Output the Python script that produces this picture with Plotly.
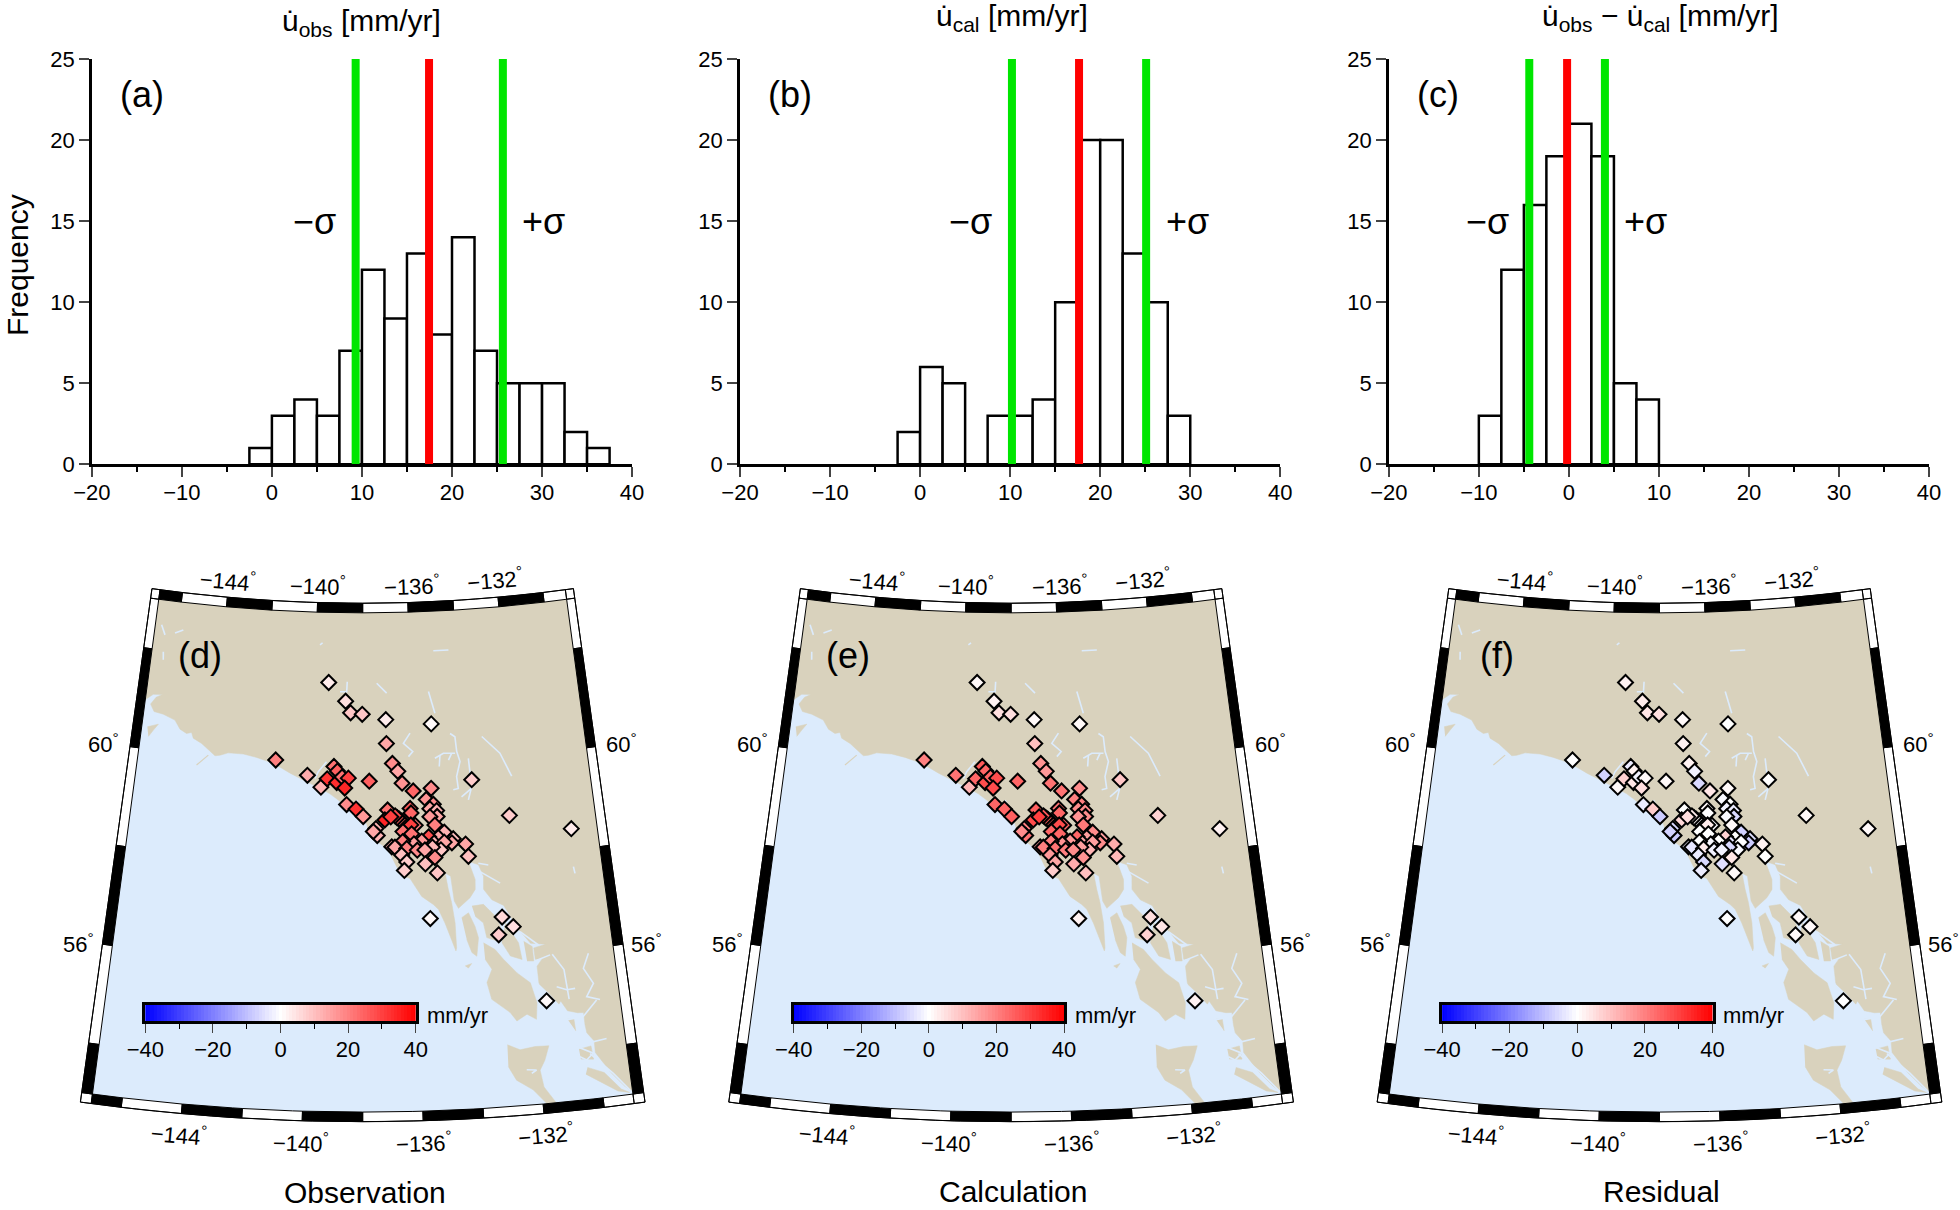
import math
import plotly.graph_objects as go

W, H = 1960, 1210
FONT = "Liberation Sans"

# ---------------- histograms ----------------
bin_width = 2.5
hist_a_start = -2.5
hist_a = [1, 3, 4, 3, 7, 12, 9, 13, 8, 14, 7, 5, 5, 5, 2, 1]
hist_b_start = -2.5
hist_b = [2, 6, 5, 0, 3, 3, 4, 10, 20, 20, 13, 10, 3]
hist_c_start = -10
hist_c = [3, 12, 16, 19, 21, 19, 5, 4]
mean_a, sigma_lo_a, sigma_hi_a = 17.45, 9.3, 25.65
mean_b, sigma_lo_b, sigma_hi_b = 17.65, 10.2, 25.1
mean_c, sigma_lo_c, sigma_hi_c = -0.2, -4.4, 4.0
x_ticks = [-20, -10, 0, 10, 20, 30, 40]
y_ticks = [0, 5, 10, 15, 20, 25]
cbar_ticks = [-40, -20, 0, 20, 40]

# ---------------- stations (degrees west, degrees north, mm/yr) ----------------
station_lon_w = [139.43,138.71,138.50,138.02,137.05,135.19,137.04,133.68,132.31,129.99,
 141.49,140.20,139.65,139.41,139.15,139.01,139.03,138.82,138.57,138.71,
 137.74,138.63,138.26,137.98,136.81,136.60,136.44,136.01,135.30,135.51,
 135.24,135.38,135.12,135.11,135.39,137.03,136.15,136.12,136.49,136.58,
 136.66,136.74,137.14,136.91,135.97,136.14,135.21,136.45,136.12,137.49,
 137.44,137.59,134.86,135.10,135.47,134.53,134.59,134.07,133.99,135.74,
 136.04,136.47,135.27,134.88,135.02,135.34,136.89,136.64,136.77,136.32,
 135.92,135.63,136.52,135.26,136.33,135.63,136.43,135.19,135.52,132.89,
 132.51,133.06,131.56]
station_lat = [61.60,61.23,61.00,60.97,60.86,60.75,60.38,59.59,58.82,58.43,
 60.01,59.73,59.50,59.67,59.92,59.83,59.60,59.71,59.69,59.49,
 59.63,59.16,59.07,58.92,59.98,59.82,59.58,59.42,59.46,59.24,
 59.14,59.05,59.01,58.89,58.89,59.05,59.07,58.98,58.82,58.86,
 58.89,58.93,58.85,58.91,58.73,58.74,58.72,58.61,58.56,58.68,
 58.54,58.62,58.57,58.47,58.49,58.43,58.35,58.31,58.06,58.41,
 58.36,58.41,58.36,58.37,58.22,58.28,58.31,58.24,58.30,58.27,
 58.23,58.23,58.14,58.07,58.00,57.95,57.83,57.76,56.85,56.80,
 56.59,56.45,55.05]
obs = [3,5,9,9,3,1,14,8,8,3,20,13,12,32,22,25,33,22,30,34,25,18,32,16,18,14,17,24,18,17,
 18,14,12,14,16,22,26,24,22,24,26,28,34,30,20,30,20,22,22,12,12,14,12,14,28,10,14,14,10,16,
 15,20,12,14,9,11,14,18,14,20,18,14,10,18,8,10,8,9,1,6,5,8,1]
cal = [1,2,5,5,1,1,10,9,7,2,20,22,12,24,26,24,28,24,28,28,24,24,24,25,17,16,22,22,18,20,
 20,18,18,18,17,25,22,24,24,25,26,26,28,30,24,28,21,24,24,20,22,18,18,15,24,15,18,13,11,16,
 17,20,14,15,12,15,16,18,20,22,20,18,16,17,14,13,8,10,2,5,4,7,2]
res = [2,3,4,5,1,0,2,0,1,1,0,-7,1,7,-3,2,4,-2,1,5,1,-3,8,-8,2,-2,-6,4,1,-1,
 0,-2,-3,-6,-1,0,1,0,-1,-1,1,3,6,5,-1,3,1,0,0,-6,-8,-7,-7,0,7,-5,-8,2,0,0,
 -1,0,-4,0,-1,-6,-2,1,-4,3,-2,-2,-3,4,-6,-5,-3,1,0,1,1,1,0]

# ---------------- coastline, islands, inland water (degrees west, degrees north) ----------------
coast_lon_w = [147.20,146.95,146.70,146.32,146.57,146.76,146.58,146.19,145.69,145.44,
 145.16,144.96,144.87,144.51,144.14,143.93,143.73,143.41,142.80,142.26,
 141.78,141.30,140.89,140.49,140.09,139.69,139.29,138.96,138.63,137.85,
 137.72,137.21,136.96,136.72,136.47,136.23,
 135.81,135.39,135.21,134.99,134.83,134.64,134.61,134.62,134.71,134.81,134.90,
 134.70,134.61,134.47,134.02,133.81,133.79,133.93,134.00,
 133.63,133.47,133.50,133.22,132.80,132.64,132.33,131.94,131.40,131.84,131.82,131.57,131.78,131.77,
 131.75,131.46,131.14,131.07,130.87,130.53,130.32,130.32,130.29,130.07,130.08,129.63,129.24,128.86]
coast_lat = [60.89,61.00,61.10,61.12,61.05,60.90,60.76,60.73,60.64,60.47,
 60.40,60.43,60.32,60.23,60.08,60.01,60.03,60.09,60.09,60.04,
 59.97,59.87,59.76,59.66,59.57,59.48,59.37,59.25,59.10,58.78,
 58.52,58.33,58.18,57.91,57.71,57.67,
 57.30,57.13,57.03,56.75,56.48,56.18,56.24,56.74,57.15,57.42,57.75,
 57.68,57.18,57.03,57.23,57.39,57.59,57.82,57.96,
 57.88,57.64,57.38,57.16,57.03,56.87,56.53,56.23,56.18,56.13,55.90,55.90,55.76,55.43,
 55.39,55.20,54.96,55.02,54.81,54.75,54.74,54.50,54.33,54.15,53.92,53.48,53.18,52.95]
island_lon_w = [146.77,146.34,146.51,146.68,None,
 133.97,133.54,133.14,132.98,133.09,133.50,133.59,133.87,None,
 132.79,132.37,132.29,132.70,132.97,None,
 132.18,131.89,131.88,132.12,None,
 134.37,134.11,133.90,133.80,133.90,134.07,134.23,None,
 134.34,134.10,134.23,None,
 133.63,133.23,132.95,132.51,132.07,131.90,131.97,132.28,132.65,132.86,133.47,133.60,133.39,133.61,None,
 133.04,132.62,132.10,131.63,131.81,132.00,131.92,131.58,131.83,132.29,132.82,133.06,None,
 130.40,129.86,129.36,129.10,129.48,130.06,130.48,None,
 130.62,130.20,130.16,130.59,None,
 130.90,130.68,130.66]
island_lat = [60.44,60.52,60.39,60.25,None,
 57.06,57.08,56.83,56.62,56.32,56.41,56.71,56.85,None,
 56.68,56.26,55.92,56.01,56.29,None,
 56.28,56.16,55.87,55.88,None,
 56.84,56.93,56.65,56.42,56.05,56.13,56.40,None,
 55.87,55.91,55.82,None,
 56.31,56.16,55.95,55.66,55.44,55.03,54.70,54.82,54.70,54.88,55.17,55.51,55.77,55.98,None,
 54.24,54.12,54.16,54.15,53.87,53.68,53.34,53.02,52.97,53.30,53.52,53.80,None,
 53.64,53.50,53.13,53.04,53.10,53.34,53.51,None,
 54.02,54.06,53.79,53.82,None,
 54.64,54.63,54.39]
water_lon_w = [146.73,146.53,None,146.51,146.47,None,146.11,145.77,None,139.84,139.73,None,
 138.65,138.67,138.95,None,137.41,137.00,None,139.45,139.77,139.89,None,138.24,138.04,None,
 134.97,134.32,None,135.25,135.13,135.02,None,136.07,136.35,135.98,136.16,None,
 134.44,134.25,134.21,134.10,134.27,134.23,134.43,None,135.10,134.75,134.28,None,
 134.89,134.94,None,134.56,134.42,None,133.16,132.48,132.09,None,
 133.76,133.74,133.70,133.86,None,134.12,133.70,None,130.08,130.05,None,133.63,133.26,None,
 133.59,132.87,None,132.28,131.66,None,131.20,130.84,130.77,None,131.16,130.82,130.52,None,
 129.91,130.15,129.86,130.15,129.70,None,130.99,130.35,129.82,None,130.34,129.64,None,
 130.69,130.15,130.40,130.61,None,131.77,131.28,None,130.26,129.56,128.98,None,132.45,132.12,132.29]
water_lat = [62.50,62.31,None,61.97,61.81,None,62.37,62.45,None,62.35,62.39,None,
 61.62,61.42,61.42,None,61.59,61.39,None,60.01,59.81,59.67,None,59.25,59.05,None,
 62.21,62.21,None,61.40,61.19,60.96,None,60.58,60.38,60.21,60.11,None,
 60.54,60.47,60.17,59.97,59.67,59.43,59.41,None,60.06,60.15,60.14,None,
 60.12,59.89,None,60.01,60.14,None,60.44,60.08,59.60,None,
 60.02,59.65,59.45,59.19,None,59.26,59.42,None,57.67,57.53,None,57.91,57.86,None,
 57.74,57.48,None,56.48,56.18,None,55.97,55.64,55.04,None,55.31,55.23,55.24,None,
 55.91,55.62,55.30,55.05,54.96,None,54.63,54.66,54.96,None,54.12,54.17,None,
 54.08,53.91,53.79,53.87,None,55.88,55.96,None,53.91,53.46,53.01,None,53.71,53.69,53.63]
spit_lon_w = [144.63, 144.20]
spit_lat = [59.79, 60.01]

# map frame graticule
lon_edges = [-147, -146, -144, -142, -140, -138, -136, -134, -132, -130, -129]
lat_edges = [63, 62, 60, 58, 56, 54, 53]

# ---------------- projection (Lambert conformal conic about -138) ----------------
N0 = 0.848
K = 5149.0
LON0 = -138


def rad(lat):
    return K * math.tan(math.radians(45 - lat / 2)) ** N0


def polar(r, t):
    return r * math.sin(t), -r * math.cos(t)


def proj(lons, lats):
    xs, ys = [], []
    for a, b in zip(lons, lats):
        if a is None:
            xs.append(None)
            ys.append(None)
            continue
        x, y = polar(rad(b), math.radians((a - LON0) * N0))
        xs.append(x)
        ys.append(y)
    return xs, ys


def west(v):
    return [None if a is None else -a for a in v]


BAND = 9.6
TW = math.radians((lon_edges[0] - LON0) * N0)
TE = math.radians((lon_edges[-1] - LON0) * N0)
DT = BAND / 1800.0


def box(r1, r2, t1, t2, n=6):
    pts = []
    for i in range(n + 1):
        pts.append(polar(r1, t1 + (t2 - t1) * i / n))
    for i in range(n + 1):
        pts.append(polar(r2, t2 + (t1 - t2) * i / n))
    pts.append(pts[0])
    return [p[0] for p in pts], [p[1] for p in pts]


def frame_pieces():
    black_x, black_y, white_x, white_y = [], [], [], []

    def put(color, bx):
        xs, ys = bx
        if color == "k":
            black_x.extend(xs + [None])
            black_y.extend(ys + [None])
        else:
            white_x.extend(xs + [None])
            white_y.extend(ys + [None])

    rt, rb = rad(lat_edges[0]), rad(lat_edges[-1])
    for i in range(len(lon_edges) - 1):
        c = "k" if i % 2 == 0 else "w"
        t1 = math.radians((lon_edges[i] - LON0) * N0)
        t2 = math.radians((lon_edges[i + 1] - LON0) * N0)
        put(c, box(rt - BAND, rt, t1, t2))
        put(c, box(rb, rb + BAND, t1, t2))
    for i in range(len(lat_edges) - 1):
        c = "w" if i % 2 == 0 else "k"
        r1, r2 = rad(lat_edges[i]), rad(lat_edges[i + 1])
        put(c, box(r1, r2, TW - DT, TW, 2))
        put(c, box(r1, r2, TE, TE + DT, 2))
    for r1, r2 in ((rt - BAND, rt), (rb, rb + BAND)):
        for t1, t2 in ((TW - DT, TW), (TE, TE + DT)):
            put("w", box(r1, r2, t1, t2, 1))
    return black_x, black_y, white_x, white_y


def px_x(x):
    return x / W


def px_y(y):
    return 1 - y / H


fig = go.Figure()
layout = dict(width=W, height=H, margin=dict(l=0, r=0, t=0, b=0), showlegend=False, template="none",
              paper_bgcolor="white", plot_bgcolor="rgba(0,0,0,0)", hovermode=False,
              font=dict(family=FONT, size=22, color="black"))
annotations = []


def note(text, x, y, size=22, angle=0):
    annotations.append(dict(text=text, x=px_x(x), y=px_y(y), xref="paper", yref="paper", showarrow=False,
                            xanchor="center", yanchor="middle", textangle=angle,
                            font=dict(family=FONT, size=size, color="black")))


# ---------------- top row ----------------
hist_left = [91.8, 740.0, 1388.8]
hist_width = 540.3
GREEN, RED = "#00E600", "#FF0000"
hist_sets = [(hist_a_start, hist_a, mean_a, sigma_lo_a, sigma_hi_a),
             (hist_b_start, hist_b, mean_b, sigma_lo_b, sigma_hi_b),
             (hist_c_start, hist_c, mean_c, sigma_lo_c, sigma_hi_c)]
for k, (start, vals, mean, lo, hi) in enumerate(hist_sets):
    n = k + 1
    xa, ya = f"x{n}", f"y{n}"
    centers = [start + bin_width * (i + 0.5) for i in range(len(vals))]
    fig.add_trace(go.Bar(x=centers, y=vals, width=bin_width, marker=dict(color="white", line=dict(color="black", width=2.5)),
                         xaxis=xa, yaxis=ya))
    for v, c in ((lo, GREEN), (hi, GREEN), (mean, RED)):
        fig.add_trace(go.Scatter(x=[v, v], y=[0, 25], mode="lines", line=dict(color=c, width=8), xaxis=xa, yaxis=ya))
    layout[f"xaxis{n}"] = dict(domain=[px_x(hist_left[k]), px_x(hist_left[k] + hist_width)], range=[-20, 40], anchor=ya,
                               automargin=False, tickvals=x_ticks, ticks="outside", ticklen=10, tickwidth=1.5, ticklabelstandoff=-3,
                               showgrid=False, zeroline=False, showline=True, linewidth=2.5, linecolor="black",
                               tickfont=dict(family=FONT, size=22),
                               minor=dict(tickvals=[-15, -5, 5, 15, 25, 35], ticks="outside", ticklen=5, tickwidth=1.5,
                                          tickcolor="black", showgrid=False))
    layout[f"yaxis{n}"] = dict(domain=[px_y(464.3), px_y(59)], range=[0, 25], anchor=xa, automargin=False, tickvals=y_ticks, ticks="outside",
                               ticklen=10, tickwidth=1.5, showgrid=False, zeroline=False, showline=True, linewidth=2.5,
                               linecolor="black", tickfont=dict(family=FONT, size=22))

DOT = "u\u0307"
note(f"{DOT}<sub>obs</sub> [mm/yr]", 361.4, 22, 30)
note(f"{DOT}<sub>cal</sub> [mm/yr]", 1012, 18, 30)
note(f"{DOT}<sub>obs</sub> \u2212 {DOT}<sub>cal</sub> [mm/yr]", 1660.3, 18, 30)
note("Frequency", 17, 265, 30, -90)
for t, x in (("(a)", 141.6), ("(b)", 790), ("(c)", 1437.6)):
    note(t, x, 95, 36)
for t, x in (("\u2212\u03c3", 314.6), ("+\u03c3", 543.4), ("\u2212\u03c3", 970.6), ("+\u03c3", 1187.8),
             ("\u2212\u03c3", 1487.3), ("+\u03c3", 1645)):
    note(t, x, 221, 36)

# ---------------- bottom row ----------------
OCEAN, LAND = "#DCEBFC", "#D9D2BD"
map_shift = [0.0, 648.4, 1296.8]
map_values = [obs, cal, res]
letters = ["(d)", "(e)", "(f)"]
names = ["Observation", "Calculation", "Residual"]
CSCALE = [[0, "#0000FF"], [0.5, "#FFFFFF"], [1, "#FF0000"]]
CENTER, APEX = 362.7, -922.7
bx, by, wx, wy = frame_pieces()
cx_lon, cx_lat = proj(west(coast_lon_w), coast_lat)
is_x, is_y = proj(west(island_lon_w), island_lat)
wa_x, wa_y = proj(west(water_lon_w), water_lat)
sp_x, sp_y = proj(west(spit_lon_w), spit_lat)
st_x, st_y = proj(west(station_lon_w), station_lat)

# closed outlines of land and ocean along the map boundary
top_lons = [lon_edges[-1] + (lon_edges[0] - lon_edges[-1]) * i / 30 for i in range(31)]
bot_lons = top_lons[::-1]
tx, ty = proj(top_lons, [lat_edges[0]] * 31)
ex, ey = proj([lon_edges[-1]] * 2, [lat_edges[-1], lat_edges[0]])
wx2, wy2 = proj([lon_edges[0]], [61.0])
land_x = cx_lon + ex + tx + wx2 + [cx_lon[0]]
land_y = cx_lat + ey + ty + wy2 + [cx_lat[0]]
ox, oy = proj(top_lons + bot_lons, [lat_edges[0]] * 31 + [lat_edges[-1]] * 31)
ox.append(ox[0])
oy.append(oy[0])
# outer outline of the frame
rt_o, rb_o = rad(lat_edges[0]) - BAND, rad(lat_edges[-1]) + BAND
outer = box(rt_o, rb_o, TE + DT, TW - DT, 30)

HALF = 296
for k in range(3):
    n = k + 4
    m = k + 7
    xa, ya = f"x{n}", f"y{n}"
    d = map_shift[k]
    lay = dict(xaxis=xa, yaxis=ya, hoverinfo="skip")
    fig.add_trace(go.Scatter(x=ox, y=oy, mode="lines", fill="toself", fillcolor=OCEAN, line=dict(color=OCEAN, width=0), **lay))
    fig.add_trace(go.Scatter(x=land_x, y=land_y, mode="lines", fill="toself", fillcolor=LAND, line=dict(color=LAND, width=0.5), **lay))
    fig.add_trace(go.Scatter(x=is_x, y=is_y, mode="lines", fill="toself", fillcolor=LAND, line=dict(color=LAND, width=0.5), **lay))
    fig.add_trace(go.Scatter(x=wa_x, y=wa_y, mode="lines", line=dict(color=OCEAN, width=1.6), **lay))
    fig.add_trace(go.Scatter(x=sp_x, y=sp_y, mode="lines", line=dict(color=LAND, width=1.2), **lay))
    fig.add_trace(go.Scatter(x=wx, y=wy, mode="lines", fill="toself", fillcolor="white", line=dict(color="black", width=1), **lay))
    fig.add_trace(go.Scatter(x=bx, y=by, mode="lines", fill="toself", fillcolor="black", line=dict(color="black", width=1), **lay))
    fig.add_trace(go.Scatter(x=outer[0], y=outer[1], mode="lines", line=dict(color="black", width=1), **lay))
    fig.add_trace(go.Scatter(x=st_x, y=st_y, mode="markers", xaxis=xa, yaxis=ya,
                             marker=dict(symbol="diamond", size=11.5, color=map_values[k], colorscale=CSCALE, cmin=-40, cmax=40,
                                         line=dict(color="black", width=2))))
    xl = CENTER + d - HALF
    layout[f"xaxis{n}"] = dict(domain=[px_x(xl), px_x(xl + 2 * HALF)], range=[-HALF, HALF], anchor=ya, visible=False, showgrid=False,
                               zeroline=False, automargin=False)
    top_px, bot_px = 570, 1130
    layout[f"yaxis{n}"] = dict(domain=[px_y(bot_px), px_y(top_px)], range=[APEX - bot_px, APEX - top_px], anchor=xa, visible=False,
                               showgrid=False, zeroline=False, automargin=False)

    # colour bar
    ramp = list(range(-40, 41))
    fig.add_trace(go.Heatmap(x=ramp, y=[0], z=[ramp], colorscale=CSCALE, zmin=-40, zmax=40, showscale=False,
                             xaxis=f"x{m}", yaxis=f"y{m}", hoverinfo="skip"))
    layout[f"xaxis{m}"] = dict(domain=[px_x(145.3 + d), px_x(415.7 + d)], range=[-40, 40], anchor=f"y{m}", tickvals=cbar_ticks,
                               automargin=False, ticks="outside", ticklen=9, tickwidth=1, ticklabelstandoff=-2, showgrid=False, zeroline=False,
                               showline=True, mirror=True, linewidth=3, linecolor="black", tickfont=dict(family=FONT, size=22),
                               minor=dict(tickvals=[-30, -10, 10, 30], ticks="outside", ticklen=5, tickwidth=1,
                                          tickcolor="black", showgrid=False))
    layout[f"yaxis{m}"] = dict(domain=[px_y(1021), px_y(1005)], range=[-0.5, 0.5], anchor=f"x{m}", showticklabels=False, ticks="",
                               automargin=False, showgrid=False, zeroline=False, showline=True, mirror=True, linewidth=3, linecolor="black")

    # text
    note(letters[k], 200 + d, 656, 36)
    note("mm/yr", 457 + d, 1015, 22)
    note(names[k], 365 + d, 1192 - (1 if k else 0), 30)
    for lab, x, y, ang in (("\u2212144", 228.3, 580, 5), ("\u2212140", 317.7, 585, 1.7), ("\u2212136", 411.7, 585, -1.7),
                           ("\u2212132", 495, 579, -5), ("\u2212144", 179, 1134, 5), ("\u2212140", 301, 1141.7, 1.7),
                           ("\u2212136", 424, 1141.7, -1.7), ("\u2212132", 546, 1134, -5)):
        note(lab + "<sup>\u00b0</sup>", x + d, y, 22, ang)
    for lab, x, y in (("60", 103.7, 743), ("56", 78.7, 943), ("60", 621.7, 743), ("56", 646.7, 943)):
        note(lab + "<sup>\u00b0</sup>", x + d, y, 22)

layout["annotations"] = annotations
fig.update_layout(**layout)
fig.write_html("out.html", config=dict(displayModeBar=False),
               post_script="document.body.style.margin='0';window.dispatchEvent(new Event('resize'));")
